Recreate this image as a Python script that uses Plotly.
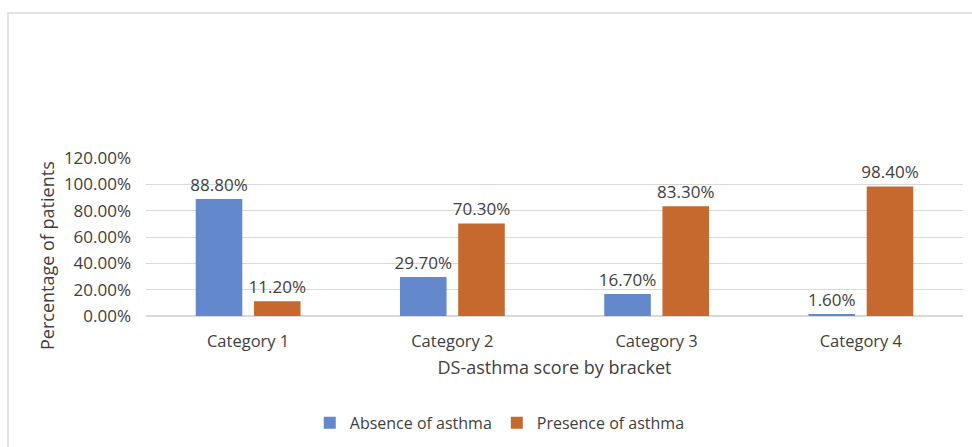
import plotly.graph_objects as go

categories = ["Category 1", "Category 2", "Category 3", "Category 4"]
absence = [88.8, 29.7, 16.7, 1.6]
presence = [11.2, 70.3, 83.3, 98.4]
series_names = ["Absence of asthma", "Presence of asthma"]
colors = ["#6388CB", "#C6692F"]

font_family = "Open Sans, Liberation Sans, sans-serif"
text_color = "#404040"

fig = go.Figure()
for name, vals, col in zip(series_names, [absence, presence], colors):
    fig.add_trace(go.Bar(
        x=categories, y=vals, name=name,
        marker=dict(color=col, line=dict(width=0)),
        texttemplate="%{y:.2f}%", textposition="outside",
        constraintext="none",
        textfont=dict(size=17, color=text_color, family=font_family),
        cliponaxis=False,
    ))

fig.update_layout(
    width=972, height=447,
    margin=dict(l=146, r=9, t=158, b=131, autoexpand=False),
    paper_bgcolor="white", plot_bgcolor="white",
    font=dict(family=font_family, color=text_color, size=16),
    barmode="group", bargap=0.43, bargroupgap=0.2,
    showlegend=True,
    legend=dict(orientation="h", x=0.433, xanchor="center", y=-0.677, yanchor="middle",
                font=dict(size=16, color=text_color), itemwidth=30,
                traceorder="normal"),
    shapes=[dict(type="rect", xref="paper", yref="paper",
                 x0=(8 - 146) / 817, x1=1.1, y0=-1.0, y1=(316 - 13) / 158,
                 line=dict(color="#D9D9D9", width=1.5), fillcolor="rgba(0,0,0,0)",
                 layer="below")],
    annotations=[dict(text="Percentage of patients", xref="paper", yref="paper",
                      x=(47 - 146) / 817, y=(316 - 256) / 158, xanchor="center", yanchor="middle",
                      textangle=-90, showarrow=False,
                      font=dict(size=18, color=text_color, family=font_family))],
)
fig.update_yaxes(range=[0, 120], dtick=20, tickformat=".2f", ticksuffix="%",
                 showgrid=True, gridcolor="#D9D9D9", gridwidth=1,
                 zeroline=True, zerolinecolor="#D9D9D9", showline=False,
                 ticklabelstandoff=14, automargin=False,
                 tickfont=dict(size=17, color=text_color))
fig.update_xaxes(showgrid=False, showline=True, linecolor="#D9D9D9", linewidth=1,
                 ticks="", ticklabelstandoff=10, automargin=False,
                 tickfont=dict(size=16.5, color=text_color),
                 title=dict(text="DS-asthma score by bracket", font=dict(size=18, color=text_color), standoff=10))

fig.write_html("out.html", config={"displayModeBar": False},
               post_script="document.body.style.margin='0';document.body.style.padding='0';")
